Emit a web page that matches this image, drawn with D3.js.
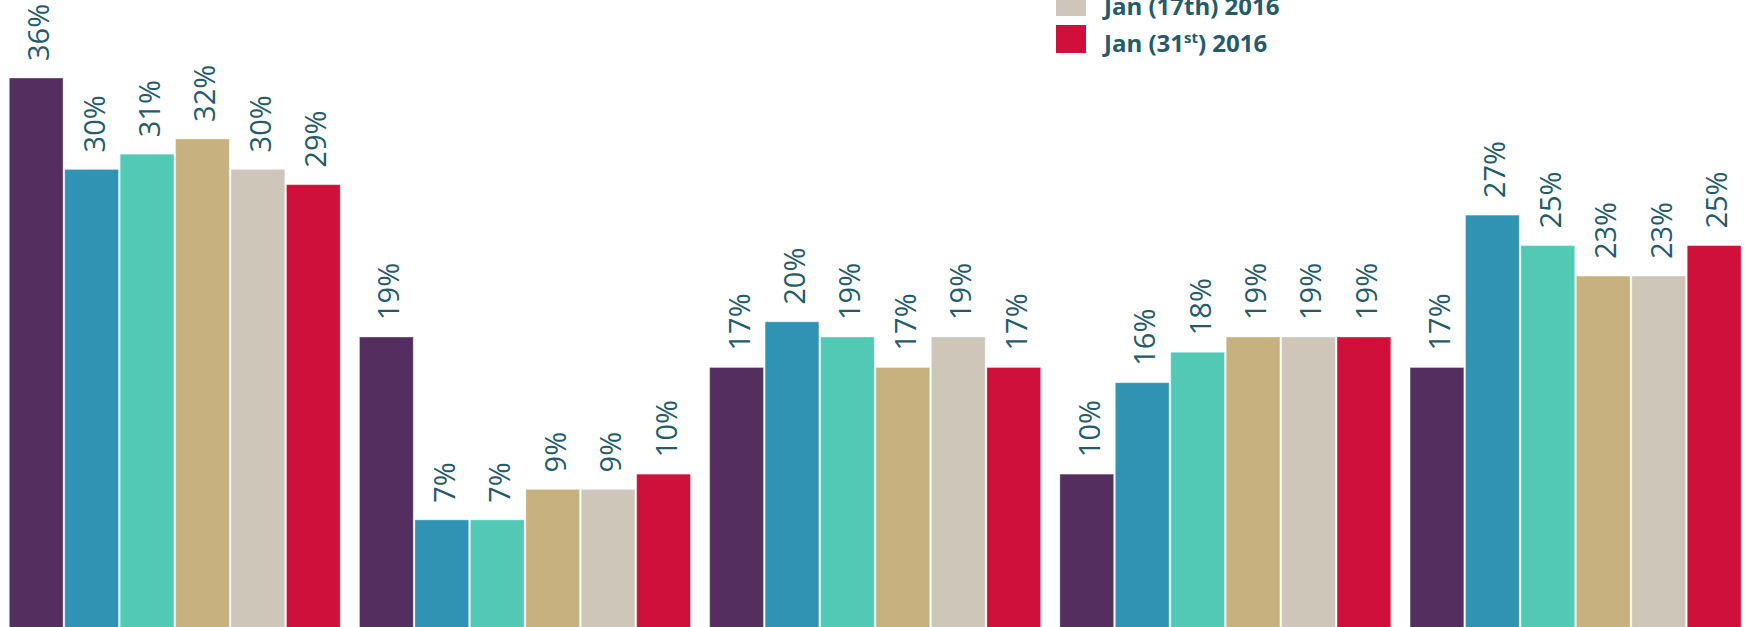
<!DOCTYPE html>
<html>
<head>
<meta charset="utf-8">
<script src="https://cdn.jsdelivr.net/npm/d3@7"></script>
<style>
  html, body { margin: 0; padding: 0; background: #ffffff; }
  svg { display: block; }
</style>
</head>
<body>
<svg id="chart" width="1745" height="627"></svg>
<script>
// ---- data ----
const groups = ["Group 1", "Group 2", "Group 3", "Group 4", "Group 5"];
const seriesNames = ["Series 1", "Series 2", "Series 3", "Series 4", "Jan (17th) 2016", "Jan (31st) 2016"];
const seriesColors = ["#532e5f", "#3193b4", "#52c9b5", "#c7b27f", "#cec6b9", "#cf103b"];
const s1 = [36, 19, 17, 10, 17];
const s2 = [30, 7, 20, 16, 27];
const s3 = [31, 7, 19, 18, 25];
const s4 = [32, 9, 17, 19, 23];
const s5 = [30, 9, 19, 19, 23];
const s6 = [29, 10, 17, 19, 25];
const seriesValues = [s1, s2, s3, s4, s5, s6];
const legendShown = [4, 5];

// ---- layout ----
const svg = d3.select("#chart");
const textColor = "#255a68";

const x0 = d3.scaleBand().domain(groups).range([9.3, 1741]).paddingInner(0.055).paddingOuter(0);
const x1 = d3.scaleBand().domain(d3.range(seriesNames.length)).range([0, x0.bandwidth()]).paddingInner(0.03).paddingOuter(0);
const y = d3.scaleLinear().domain([0, 36]).range([626.5, 78]);

const rows = [];
groups.forEach((g, gi) => {
  seriesValues.forEach((vals, si) => {
    rows.push({ g, si, v: vals[gi] });
  });
});

const bars = svg.append("g");
bars.selectAll("rect").data(rows).join("rect")
  .attr("x", d => x0(d.g) + x1(d.si))
  .attr("y", d => y(d.v))
  .attr("width", x1.bandwidth())
  .attr("height", d => y(0) - y(d.v) + 1)
  .attr("fill", d => seriesColors[d.si])
  .attr("stroke", "rgba(255,255,255,0.35)")
  .attr("stroke-width", 1);

bars.selectAll("text").data(rows).join("text")
  .attr("transform", d => {
    const cx = x0(d.g) + x1(d.si) + x1.bandwidth() / 2 + 1.5;
    const ty = y(d.v) - 17;
    return `translate(${cx},${ty}) rotate(-90)`;
  })
  .attr("text-anchor", "start")
  .attr("dominant-baseline", "central")
  .attr("font-family", "'Open Sans', sans-serif")
  .attr("font-size", 29)
  .attr("fill", textColor)
  .text(d => d.v + "%");

// ---- legend (only the visible entries) ----
const legend = svg.append("g");
legendShown.forEach((si, i) => {
  const top = -12 + i * 37;
  legend.append("rect")
    .attr("x", 1056).attr("y", top)
    .attr("width", 30).attr("height", 28)
    .attr("fill", seriesColors[si]);
  const t = legend.append("text")
    .attr("x", 1104).attr("y", top + 27)
    .attr("font-family", "'Open Sans', sans-serif")
    .attr("font-weight", "bold")
    .attr("font-size", 24)
    .attr("fill", textColor);
  const name = seriesNames[si];
  const m = name.match(/^(.*\(\d+)(st)(\).*)$/);
  if (m) {
    t.append("tspan").text(m[1]);
    t.append("tspan").attr("font-size", 15).attr("dy", -9).text(m[2]);
    t.append("tspan").attr("dy", 9).text(m[3]);
  } else {
    t.text(name);
  }
});
</script>
</body>
</html>
